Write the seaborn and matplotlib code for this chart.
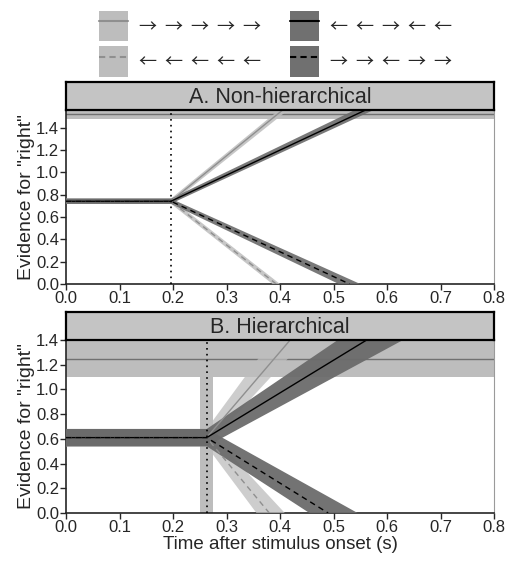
import numpy as np
import pandas as pd
import matplotlib
matplotlib.use("Agg")
import matplotlib.pyplot as plt
import seaborn as sns
from matplotlib.patches import Patch
from matplotlib.lines import Line2D
from matplotlib.legend_handler import HandlerTuple

# conditions, in legend order
labels = ["→ → → → →", "← ← ← ← ←", "← ← → ← ←", "→ → ← → →"]
goes_up = [True, False, True, False]
shade = ["light", "light", "dark", "dark"]
dashed = [False, True, False, True]

# panel A: non-hierarchical
A_t0 = 0.196
A_start = 0.742
A_start_band = (0.72, 0.765)
A_bound = 1.52
A_bound_band = (1.48, 1.56)
A_ymax = 1.56
A_exit = [0.405, 0.393, 0.56, 0.53]        # where each mean line leaves the plot
A_exit_early = [0.398, 0.386, 0.54, 0.51]
A_exit_late = [0.415, 0.40, 0.575, 0.55]

# panel B: hierarchical
B_t0 = 0.263
B_t0_band = (0.25, 0.275)
B_start = 0.61
B_start_band = (0.54, 0.68)
B_bound = 1.245
B_bound_band = (1.10, 1.40)
B_ymax = 1.40
B_exit = [0.419, 0.38, 0.562, 0.49]
B_exit_early = [0.385, 0.356, 0.508, 0.455]
B_exit_late = [0.447, 0.409, 0.63, 0.545]

sns.set_style("ticks")
plt.rcParams["font.family"] = ["Liberation Sans", "DejaVu Sans"]

LIGHT_FILL = "#bdbdbd"
DARK_FILL = "#6b6b6b"
LINE_COL = {"light": "#8f8f8f", "dark": "#000000"}

fig = plt.figure(figsize=(5.12, 5.61), dpi=100)


def draw_panel(ax, sax, title, t0, start, start_band, bound, bound_band, ymax,
               exit_t, exit_early, exit_late, t0_band=None, start_col="#8a8a8a",
               rib_alpha=(0.85, 0.9)):
    ax.axhspan(bound_band[0], bound_band[1], color=LIGHT_FILL, lw=0, zorder=1)
    ax.axhline(bound, color="#707070", lw=1.0, zorder=2)
    if t0_band is not None:
        ax.axvspan(t0_band[0], t0_band[1], color=LIGHT_FILL, lw=0, zorder=1)

    # start band before the onset of accumulation
    ax.fill_between([0, t0], start_band[0], start_band[1], color=start_col,
                    lw=0, zorder=3)

    for i in range(4):
        edge = ymax if goes_up[i] else 0.0
        if goes_up[i]:
            xs_hi = [0, t0, exit_early[i]]
            xs_lo = [0, t0, exit_late[i]]
        else:
            xs_hi = [0, t0, exit_late[i]]
            xs_lo = [0, t0, exit_early[i]]
        ys_hi = [start_band[1], start_band[1], edge]
        ys_lo = [start_band[0], start_band[0], edge]
        col = LIGHT_FILL if shade[i] == "light" else DARK_FILL
        a = rib_alpha[0] if shade[i] == "light" else rib_alpha[1]
        ax.fill(np.r_[xs_hi, xs_lo[::-1]], np.r_[ys_hi, ys_lo[::-1]],
                color=col, alpha=a, lw=0, zorder=3 if shade[i] == "light" else 4)

    for i in [0, 2, 1, 3]:
        edge = ymax if goes_up[i] else 0.0
        df = pd.DataFrame({"t": [0, t0, exit_t[i]], "y": [start, start, edge]})
        sns.lineplot(data=df, x="t", y="y", ax=ax, color=LINE_COL[shade[i]],
                     lw=1.0, linestyle=(0, (4, 3)) if dashed[i] else "-",
                     zorder=5, estimator=None, sort=False)

    ax.axvline(t0, color="black", lw=1.2, linestyle=(0, (1, 2.5)), zorder=6)

    ax.set_xlim(0, 0.8)
    ax.set_ylim(0, ymax)
    ax.set_xticks(np.arange(0, 0.81, 0.1))
    ax.set_xticklabels([f"{v:.1f}" for v in np.arange(0, 0.81, 0.1)])
    ax.set_yticks(np.arange(0, 1.41, 0.2))
    ax.set_yticklabels([f"{v:.1f}" for v in np.arange(0, 1.41, 0.2)])
    ax.tick_params(labelsize=12, length=4, width=1, pad=1)
    ax.set_xlabel("")
    ax.set_ylabel('Evidence for "right"', fontsize=14, labelpad=1)
    for s in ["left", "bottom"]:
        ax.spines[s].set_linewidth(1.2)
    ax.spines["top"].set_visible(False)
    ax.spines["right"].set_color("#9a9a9a")
    ax.spines["right"].set_linewidth(0.8)

    sax.set_facecolor("#c4c4c4")
    sax.set_xticks([])
    sax.set_yticks([])
    for s in sax.spines.values():
        s.set_linewidth(1.6)
        s.set_color("black")
    sax.text(0.5, 0.45, title, ha="center", va="center", fontsize=15.5,
             transform=sax.transAxes)


L, W = 66 / 512, 428 / 512
axA = fig.add_axes([L, 1 - 284 / 561, W, 174 / 561])
sA = fig.add_axes([L, 1 - 110 / 561, W, 28 / 561])
axB = fig.add_axes([L, 1 - 513 / 561, W, 173 / 561])
sB = fig.add_axes([L, 1 - 340 / 561, W, 28 / 561])

draw_panel(axA, sA, "A. Non-hierarchical", A_t0, A_start, A_start_band, A_bound,
           A_bound_band, A_ymax, A_exit, A_exit_early, A_exit_late)
draw_panel(axB, sB, "B. Hierarchical", B_t0, B_start, B_start_band, B_bound,
           B_bound_band, B_ymax, B_exit, B_exit_early, B_exit_late,
           t0_band=B_t0_band, start_col=DARK_FILL, rib_alpha=(0.75, 0.95))
axB.set_xlabel("Time after stimulus onset (s)", fontsize=13.5, labelpad=1)

handles = []
for i in range(4):
    box = Patch(facecolor=LIGHT_FILL if shade[i] == "light" else "#707070",
                edgecolor="white", lw=0)
    ln = Line2D([], [], color=LINE_COL[shade[i]], lw=1.5,
                linestyle=(0, (3, 2)) if dashed[i] else "-")
    handles.append((box, ln))
fig.legend(handles, [s.replace(" ", "  ") for s in labels], ncol=2,
           loc="upper left", bbox_to_anchor=(88 / 512, 1.0), frameon=False,
           prop={"family": ["Noto Sans CJK JP", "DejaVu Sans"], "size": 13},
           handler_map={tuple: HandlerTuple(ndivide=1)},
           handlelength=1.6, handleheight=2.2, columnspacing=1.65,
           labelspacing=0.3, handletextpad=0.6, borderaxespad=0.2)

fig.savefig("out.png", dpi=100)
